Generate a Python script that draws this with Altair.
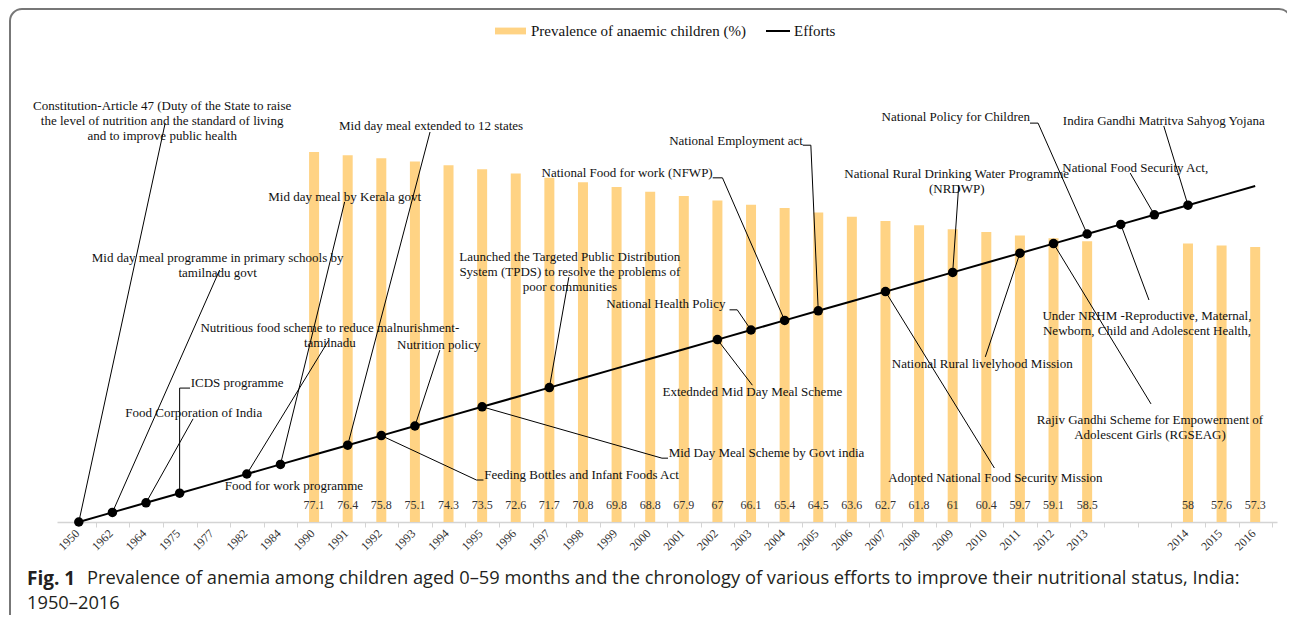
import json
import altair as alt
import pandas as pd

# ---------------- data ----------------
categories = ["1950", "1962", "1964", "1975", "1977", "1982", "1984", "1990", "1991", "1992",
              "1993", "1994", "1995", "1996", "1997", "1998", "1999", "2000", "2001", "2002",
              "2003", "2004", "2005", "2006", "2007", "2008", "2009", "2010", "2011", "2012",
              "2013", "", "", "2014", "2015", "2016"]

prevalence = [None, None, None, None, None, None, None,
              77.1, 76.4, 75.8, 75.1, 74.3, 73.5, 72.6, 71.7, 70.8, 69.8, 68.8, 67.9, 67,
              66.1, 65.4, 64.5, 63.6, 62.7, 61.8, 61, 60.4, 59.7, 59.1, 58.5,
              None, None, 58, 57.6, 57.3]

efforts = [0, 2, 4, 6, 8, 10, 12, 14, 16, 18, 20, 22, 24, 26, 28, 30, 32, 34, 36, 38,
           40, 42, 44, 46, 48, 50, 52, 54, 56, 58, 60, 62, 64, 66, 68, 70]

effort_points = [0, 1, 2, 3, 5, 6, 8, 9, 10, 12, 14, 19, 20, 21, 22, 24, 26, 28, 29, 30, 31, 32, 33]

BAR_NAME = "Prevalence of anaemic children (%)"
LINE_NAME = "Efforts"

# annotation texts and the effort they point at
ann_text = [
    ["Constitution-Article 47 (Duty of the State to raise", "the level of nutrition and the standard of living", "and to improve public health"],
    ["Mid day meal programme in primary schools by", "tamilnadu govt"],
    ["Food Corporation of India"],
    ["ICDS programme"],
    ["Nutritious food scheme to reduce malnurishment-", "tamilnadu"],
    ["Mid day meal by Kerala govt"],
    ["Mid day meal extended to 12 states"],
    ["Food for work programme"],
    ["Nutrition policy"],
    ["Feeding Bottles and Infant Foods Act"],
    ["Mid Day Meal Scheme by Govt india"],
    ["Launched the Targeted Public Distribution", "System (TPDS) to resolve the problems of", "poor communities"],
    ["National Health Policy"],
    ["Extednded Mid Day Meal Scheme"],
    ["National Food for work (NFWP)"],
    ["National Employment act"],
    ["National Rural Drinking Water Programme", "(NRDWP)"],
    ["Adopted National Food Security Mission"],
    ["National Rural livelyhood Mission"],
    ["Rajiv Gandhi Scheme for Empowerment of", "Adolescent Girls (RGSEAG)"],
    ["National Policy for Children"],
    ["Under NRHM -Reproductive, Maternal,", "Newborn, Child and Adolescent Health,"],
    ["National Food Security Act,"],
    ["Indira Gandhi Matritva Sahyog Yojana"],
]
ann_target = [0, 1, 2, 3, 5, 6, 8, None, 10, 9, 12, 14, 20, 19, 21, 22, 26, 24, 28, 29, 30, 31, 32, 33]

# layout of the annotations (x in category index units, y in value units)
ann_align = ["center", "center", "center", "left", "center", "center", "center", "center", "center", "left",
             "left", "center", "right", "center", "right", "right", "center", "center", "center", "center",
             "right", "center", "center", "center"]
ann_pos = [(2.48, 86.7), (4.13, 55.1), (3.42, 22.7), (3.33, 29.0), (7.47, 40.5), (7.91, 67.7),
           (10.48, 82.5), (6.40, 7.5), (10.71, 36.9), (12.06, 9.8), (17.55, 14.4), (14.61, 55.2),
           (19.24, 45.4), (20.04, 27.1), (18.86, 72.7), (21.54, 79.4), (26.12, 72.6), (27.27, 9.2),
           (26.88, 32.9), (31.87, 21.35), (28.30, 84.4), (31.78, 43.0), (31.43, 73.75), (32.28, 83.5)]
ann_leader = [
    [(2.57, 83.1)], [(4.19, 52.5)], [(3.40, 21.5)], [(3.31, 27.9), (3.0, 27.9)], [(7.44, 37.9)],
    [(7.91, 66.7)], [(10.45, 81.25)], [], [(10.74, 35.8)], [(12.04, 8.75), (11.83, 8.75)],
    [(17.53, 13.3), (17.35, 13.3)], [(14.58, 51.0)], [(19.36, 44.2), (19.59, 44.2)], [(20.04, 28.5)],
    [(18.86, 71.7), (19.15, 71.7)], [(21.54, 78.5), (21.78, 78.5)], [(26.18, 70.2)], [(27.24, 11.25)],
    [(26.97, 34.4)], [(31.90, 24.6)], [(28.30, 83.1), (28.54, 83.1)], [(31.84, 46.25)],
    [(31.28, 72.7)], [(32.28, 82.5)],
]

caption_bold = "Fig. 1"
caption_line1 = "Prevalence of anemia among children aged 0\u201359 months and the chronology of various efforts to improve their nutritional status, India:"
caption_line2 = "1950\u20132016"

# ---------------- tables ----------------
n = len(categories)
bars_df = pd.DataFrame({
    "i": [i for i in range(n) if prevalence[i] is not None],
    "v": [prevalence[i] for i in range(n) if prevalence[i] is not None],
})
bars_df["label"] = [f"{v:g}" for v in bars_df["v"]]
bars_df["series"] = BAR_NAME

line_df = pd.DataFrame({"i": list(range(n)), "v": efforts, "series": LINE_NAME})
pts_df = pd.DataFrame({"i": effort_points, "v": [efforts[i] for i in effort_points]})

lead_rows = []
for k, verts in enumerate(ann_leader):
    tgt = ann_target[k]
    if tgt is None or not verts:
        continue
    path = list(verts) + [(tgt, efforts[tgt])]
    for o, (x, y) in enumerate(path):
        lead_rows.append({"id": k, "o": o, "i": x, "v": y})
lead_df = pd.DataFrame(lead_rows)

ann_df = pd.DataFrame({
    "text": ann_text,
    "align": ann_align,
    "i": [p[0] for p in ann_pos],
    "v": [p[1] for p in ann_pos],
})

# ---------------- chart ----------------
SERIF = "Liberation Serif"
SANS = "Open Sans"
W, H = 1220, 480
half = W / n / 2
xscale = alt.Scale(domain=[-0.5, n - 0.5], nice=False, zero=False)
yscale = alt.Scale(domain=[0, 100], nice=False)

x_axis = alt.Axis(
    values=list(range(n)),
    labelExpr=json.dumps(categories) + "[datum.value]",
    labelAngle=-45, labelAlign="right", labelBaseline="middle",
    labelFont=SERIF, labelFontSize=12, labelColor="#333333",
    tickOffset=half, labelOffset=-half - 2, tickSize=5, tickColor="#d4d4d4",
    domainColor="#d4d4d4", domainWidth=1.5, grid=False, title=None, labelPadding=4,
    labelOverlap=False, labelBound=False, labelFlush=False,
)

X = alt.X("i:Q", scale=xscale, axis=x_axis)
Y = alt.Y("v:Q", scale=yscale, axis=None)

bars = alt.Chart(bars_df).mark_bar(size=10).encode(
    x=X, y=Y,
    fill=alt.Fill("series:N", scale=alt.Scale(domain=[BAR_NAME], range=["#FFD384"]),
                  legend=alt.Legend(title=None, orient="none", legendX=437, legendY=-27.5,
                                    symbolType="M-1,-0.22H1V0.22H-1Z", symbolSize=961,
                                    labelFont=SERIF, labelFontSize=15, labelColor="#111111",
                                    labelOffset=4, labelLimit=0, padding=0)),
)

value_labels = alt.Chart(bars_df).mark_text(font=SERIF, fontSize=12, color="#333333", baseline="middle").encode(
    x=X, y=alt.value(463), text="label:N"
)

leaders = alt.Chart(lead_df).mark_line(color="black", strokeWidth=1).encode(
    x=X, y=Y, detail="id:N", order="o:Q"
)

effort_line = alt.Chart(line_df).mark_line(strokeWidth=2).encode(
    x=X, y=Y,
    stroke=alt.Stroke("series:N", scale=alt.Scale(domain=[LINE_NAME], range=["black"]),
                      legend=alt.Legend(title=None, orient="none", legendX=708, legendY=-24,
                                        symbolType="stroke", symbolSize=576, symbolStrokeWidth=2,
                                        labelFont=SERIF, labelFontSize=15, labelColor="#111111",
                                        labelOffset=3, labelLimit=0, padding=0)),
)

points = alt.Chart(pts_df).mark_circle(size=90, color="black", opacity=1).encode(x=X, y=Y)

ann_layers = []
for al in ["center", "left", "right"]:
    ann_layers.append(
        alt.Chart(ann_df[ann_df["align"] == al]).mark_text(
            font=SERIF, fontSize=13, color="#111111", align=al, baseline="middle", lineHeight=15
        ).encode(x=X, y=Y, text="text")
    )

one = pd.DataFrame({"a": [0]})
cap_bold = alt.Chart(one).mark_text(font=SANS, fontSize=19, fontWeight="bold", color="#231f20",
                                    align="left", baseline="middle").encode(
    x=alt.value(-30), y=alt.value(537), text=alt.value(caption_bold))
cap_1 = alt.Chart(one).mark_text(font=SANS, fontSize=18.3, color="#231f20", align="left", baseline="middle").encode(
    x=alt.value(30), y=alt.value(537), text=alt.value(caption_line1))
cap_2 = alt.Chart(one).mark_text(font=SANS, fontSize=18.3, color="#231f20", align="left", baseline="middle").encode(
    x=alt.value(-30), y=alt.value(562), text=alt.value(caption_line2))

frame = alt.Chart(one).mark_rect(fill=None, fillOpacity=0, stroke="#777777", strokeWidth=2, cornerRadius=12).encode(
    x=alt.value(-47), x2=alt.value(1234), y=alt.value(-33), y2=alt.value(585))

chart = alt.layer(
    bars, value_labels, leaders, effort_line, points, *ann_layers, cap_bold, cap_1, cap_2, frame
).properties(
    width=W, height=H,
    autosize=alt.AutoSizeParams(type="none"),
    padding={"left": 49, "top": 34, "right": 10, "bottom": 93},
    background="white",
).configure_view(stroke=None)

chart.save("out.html", embed_options={"renderer": "svg", "actions": False})
